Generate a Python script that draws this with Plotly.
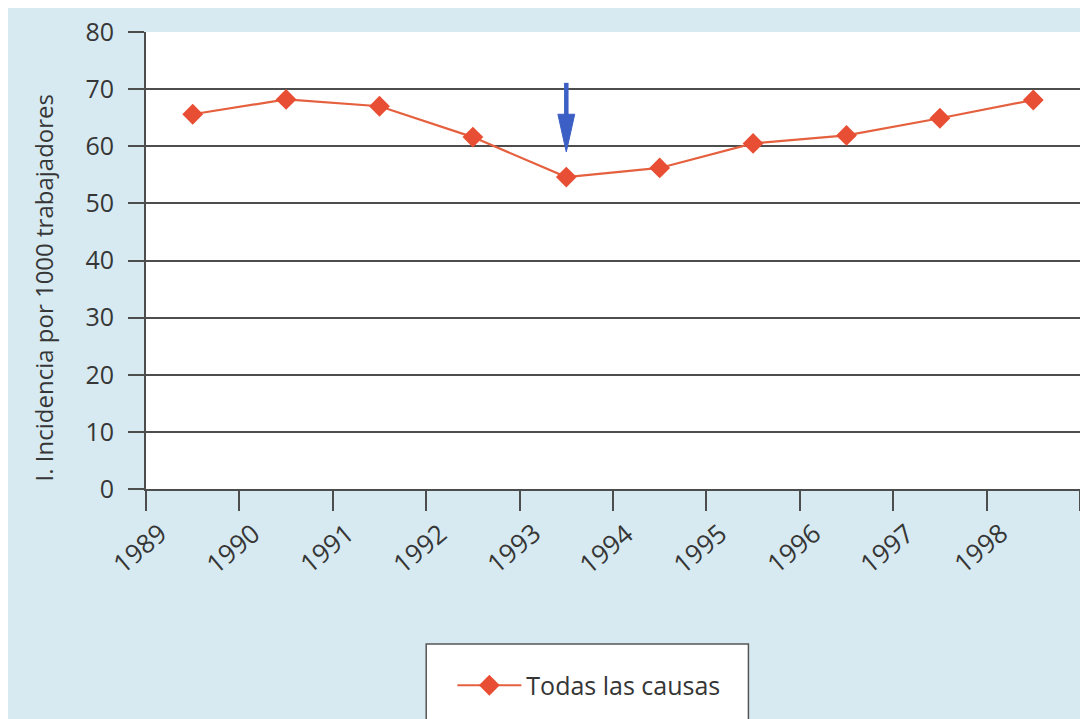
import plotly.graph_objects as go

years = ["1989", "1990", "1991", "1992", "1993", "1994", "1995", "1996", "1997", "1998"]
values = [65.6, 68.2, 67.0, 61.6, 54.6, 56.2, 60.5, 61.9, 64.9, 68.1]
series_name = "Todas las causas"
y_title = "I. Incidencia por 1000 trabajadores"
arrow_year_index = 4
arrow_top = 71.1
arrow_tip = 59.0

xpos = [i + 0.5 for i in range(len(years))]
tickvals = list(range(len(years) + 1))
n_slots = len(years)

font_family = "Open Sans, Lato, DejaVu Sans, sans-serif"
text_col = "#363636"
grid_col = "#4d4d4d"
bg = "#d7eaf1"

fig = go.Figure()
fig.add_trace(go.Scatter(
    x=xpos, y=values, mode="lines+markers", name=series_name,
    line=dict(color="#e5603e", width=2.2),
    marker=dict(symbol="diamond", size=16, color="#e84e34"),
))

# arrow (shaft + head) pointing at the minimum
ax_x = xpos[arrow_year_index]
head_len = 6.6
head_half = 0.09
head_base = arrow_tip + head_len
fig.add_shape(type="line", xref="x", yref="y", x0=ax_x, x1=ax_x, y0=arrow_top, y1=head_base - 0.5,
              line=dict(color="#3b5fc4", width=4.5))
fig.add_shape(type="path", xref="x", yref="y",
              path=f"M {ax_x - head_half},{head_base} L {ax_x + head_half},{head_base} L {ax_x},{arrow_tip} Z",
              fillcolor="#3b5fc4", line=dict(color="#3b5fc4", width=1))

# x tick labels, centred under the ticks and tilted
for i, yr in enumerate(years):
    fig.add_annotation(x=(i - 0.07) / n_slots, y=-0.13, xref="paper", yref="paper", text=yr,
                       textangle=-40, showarrow=False, xanchor="center", yanchor="middle",
                       font=dict(family=font_family, size=26, color=text_col))

fig.add_annotation(
    x=-0.130, y=0.439, xref="paper", yref="paper", text=y_title, textangle=-90,
    showarrow=False, font=dict(family=font_family, size=24, color=text_col),
)

# legend frame
fig.add_shape(type="rect", xref="paper", yref="paper", x0=0.300, x1=0.645, y0=-0.56, y1=-0.339,
              line=dict(color="#555555", width=1.5), fillcolor="white", layer="below")

fig.update_layout(
    width=1080, height=711,
    margin=dict(l=138, r=6, t=21, b=230),
    paper_bgcolor=bg, plot_bgcolor="white",
    showlegend=True,
    legend=dict(x=0.328, y=-0.43, xanchor="left", yanchor="middle", bgcolor="rgba(0,0,0,0)",
                itemwidth=64,
                font=dict(family=font_family, size=25, color=text_col)),
    font=dict(family=font_family, size=24, color=text_col),
)
fig.update_xaxes(
    range=[0, len(years)], tickmode="array", tickvals=tickvals, ticktext=[""] * len(tickvals),
    ticks="outside", ticklen=20, tickwidth=2, tickcolor=grid_col,
    showgrid=False, showline=True, linecolor=grid_col, linewidth=2, zeroline=False,
)
fig.update_yaxes(
    range=[0, 80], dtick=10, ticks="outside", ticklen=16, tickwidth=2, tickcolor=grid_col,
    showgrid=True, gridcolor=grid_col, gridwidth=2, showline=True, linecolor=grid_col,
    linewidth=2, mirror=True, zeroline=False, ticklabelstandoff=9,
    tickfont=dict(family=font_family, size=25, color=text_col),
)

fig.write_html("out.html")
